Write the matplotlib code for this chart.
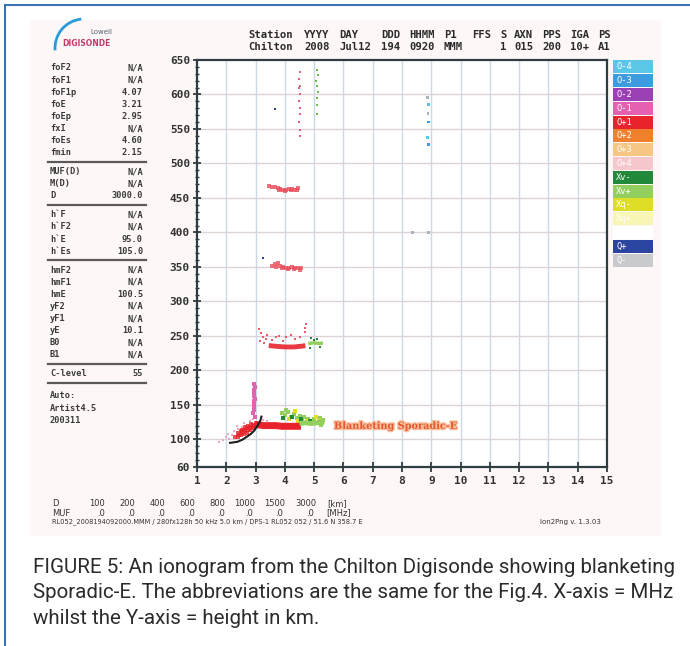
import matplotlib
matplotlib.use('Agg')
import matplotlib.pyplot as plt
import matplotlib.patheffects as pe
from matplotlib.patches import Rectangle, Arc

W, H = 690, 646

# header
head_keys = "Station YYYY DAY   DDD HHMM P1  FFS S AXN PPS IGA PS"
head_vals = ['Chilton', '2008', 'Jul12', '194', '0920', 'MMM', '', '1', '015', '200', '10+', 'A1']

# scaled parameters, left column
param_groups = [
    [('foF2', 'N/A'), ('foF1', 'N/A'), ('foF1p', '4.07'), ('foE', '3.21'),
     ('foEp', '2.95'), ('fxI', 'N/A'), ('foEs', '4.60'), ('fmin', '2.15')],
    [('MUF(D)', 'N/A'), ('M(D)', 'N/A'), ('D', '3000.0')],
    [('h`F', 'N/A'), ('h`F2', 'N/A'), ('h`E', '95.0'), ('h`Es', '105.0')],
    [('hmF2', 'N/A'), ('hmF1', 'N/A'), ('hmE', '100.5'), ('yF2', 'N/A'),
     ('yF1', 'N/A'), ('yE', '10.1'), ('B0', 'N/A'), ('B1', 'N/A')],
    [('C-level', '55')],
]
auto_lines = ['Auto:', 'Artist4.5', '200311']

# bottom MUF table
dist_km = ['100', '200', '400', '600', '800', '1000', '1500', '3000']
muf_mhz = ['.0', '.0', '.0', '.0', '.0', '.0', '.0', '.0']
file_line = "RL052_2008194092000.MMM / 280fx128h 50 kHz 5.0 km / DPS-1 RL052 052 / 51.6 N 358.7 E"

# legend
leg_labels = ['O-4', 'O-3', 'O-2', 'O-1', 'O+1', 'O+2', 'O+3', 'O+4',
              'Xv-', 'Xv+', 'Xq-', 'Xq+', '', 'Q+', 'Q-']
leg_colors = ['#5cc6e8', '#3d9be0', '#9a3fb4', '#e460b0', '#e8232b', '#f0802e',
              '#f8c684', '#f6c8cc', '#22883a', '#92cf5e', '#dede26', '#f8f6b4',
              '#ffffff', '#2b44a0', '#c8cacc']

# ---- ionogram echoes (frequency MHz, virtual height km) ----
# autoscaled E trace
e_f = [2.13, 2.38, 2.55, 2.70, 2.84, 2.96, 3.06, 3.16, 3.20]
e_h = [95, 96.5, 99.6, 103.8, 108, 113, 119.6, 127, 133]

# blanketing Es, O-mode band
es_f = [2.98, 3.1, 3.3, 3.5, 3.7, 3.9, 4.1, 4.3, 4.55]
es_h = [122, 121, 120, 120, 120, 119, 119, 119, 119]
# Es extension, X-mode
esx_f = [4.5, 4.7, 4.9, 5.1, 5.35]
esx_h = [123, 124, 123, 124, 125]
esx_dot_f = [3.9, 4.0, 4.1, 4.2, 4.3, 4.4, 4.5, 4.6, 4.8, 5.0, 5.2, 5.3, 4.05, 4.65, 4.95, 5.25]
esx_dot_h = [138, 135, 140, 133, 137, 131, 134, 128, 130, 129, 131, 128, 142, 133, 126, 121]
esy_dot_f = [4.15, 4.45, 4.75, 5.05, 5.15, 4.35]
esy_dot_h = [130, 127, 126, 132, 127, 141]
esdg_dot_f = [4.25, 4.55, 4.85, 5.2, 3.95]
esdg_dot_h = [132, 129, 127, 125, 131]

# O-mode cloud under the Es band
cloud_f = [2.3, 2.4, 2.45, 2.5, 2.55, 2.6, 2.6, 2.65, 2.7, 2.7, 2.75, 2.8, 2.8,
           2.85, 2.9, 2.9, 2.95, 3.0, 2.5, 2.65, 2.75, 2.85, 2.4, 2.55]
cloud_h = [103, 104, 107, 106, 110, 108, 113, 112, 110, 116, 114, 113, 118,
           116, 117, 121, 119, 124, 112, 118, 120, 122, 109, 114]
faint_f = [1.75, 1.9, 2.0, 2.1, 2.2, 2.25, 2.4, 2.55, 2.6, 2.8, 2.9, 2.05, 2.35, 3.25, 3.4]
faint_h = [96, 99, 103, 101, 106, 112, 115, 118, 124, 126, 130, 108, 119, 128, 126]

# O-1 spike near 3 MHz
spike_f = [2.92, 2.94, 2.95, 2.96, 2.97, 2.95, 2.93, 2.96, 2.98, 2.94, 2.97, 2.95]
spike_h = [138, 143, 148, 153, 158, 163, 168, 172, 176, 180, 133, 156]

# second hop
hop2_f = [3.45, 3.7, 4.0, 4.3, 4.55, 4.7]
hop2_h = [236, 235, 234, 234, 235, 236]
hop2_dot_f = [3.1, 3.2, 3.25, 3.35, 3.4, 3.55, 3.7, 3.8, 3.95, 4.05, 4.2, 4.35,
              4.5, 3.15, 3.3, 4.7, 4.7, 4.72]
hop2_dot_h = [260, 254, 248, 246, 252, 244, 248, 250, 243, 249, 251, 245,
              248, 242, 240, 256, 262, 268]
hop2x_f = [4.8, 5.0, 5.2, 5.3]
hop2x_h = [239, 240, 239, 240]
hop2x_dot_f = [4.9, 5.1, 5.2, 4.85, 5.0]
hop2x_dot_h = [247, 245, 234, 233, 244]

# third and fourth hop
hop3_f = [3.55, 3.65, 3.75, 3.85, 3.95, 4.05, 4.15, 4.25, 4.35, 4.45, 4.55, 3.7, 3.9, 4.1, 4.3, 4.5]
hop3_h = [352, 354, 356, 351, 350, 349, 349, 350, 348, 349, 348, 350, 348, 347, 347, 346]
hop4_f = [3.45, 3.55, 3.65, 3.75, 3.85, 3.95, 4.05, 4.15, 4.25, 4.35, 4.45, 3.8, 4.0, 4.2, 4.4]
hop4_h = [467, 466, 466, 465, 463, 462, 462, 463, 463, 462, 464, 461, 460, 461, 461]

# high vertical echoes
hi_f = [4.5, 4.48, 4.52, 4.5, 4.47, 4.53, 4.5, 4.49, 4.51, 4.5, 4.48]
hi_h = [632, 622, 612, 600, 590, 580, 572, 560, 548, 540, 610]
hig_f = [5.1, 5.12, 5.08, 5.1, 5.13, 5.1, 5.11, 5.09]
hig_h = [635, 628, 620, 612, 603, 595, 585, 572]
far_f = [8.88, 8.9, 8.89, 8.9, 8.88, 8.91, 8.35, 8.9]
far_h = [596, 585, 573, 560, 538, 528, 400, 400]
far_c = ['#aab4bc', '#5cc6e8', '#aab4bc', '#3d9be0', '#5cc6e8', '#3d9be0', '#aab4bc', '#aab4bc']
navy_f = [3.66, 3.25]
navy_h = [579, 363]


def fx(px):
    return px / W


def fy(py):
    return 1 - py / H


fig = plt.figure(figsize=(6.9, 6.46), dpi=100)
fig.patch.set_facecolor('white')

# ionogram image background and page frame
fig.patches.append(Rectangle((fx(30), fy(535)), fx(660) - fx(30), fy(20) - fy(535),
                             transform=fig.transFigure, color='#fdf8f7', zorder=-10))
fig.add_artist(plt.Line2D([fx(5), 1], [fy(5), fy(5)], color='#3d72b4', lw=1.5))
fig.add_artist(plt.Line2D([fx(5), fx(5)], [fy(5), 0], color='#3d72b4', lw=1.5))

# logo
fig.add_artist(Arc((fx(84), fy(48)), fx(58), 58 / H, theta1=95, theta2=185,
                   transform=fig.transFigure, color='#2a9ad8', lw=2.0))
fig.text(fx(112), fy(32), 'Lowell', fontsize=5, color='#556070', ha='right', va='center')
fig.text(fx(62), fy(44), 'DIGISONDE', fontsize=5.5, color='#c43a6c', ha='left', va='center',
         fontweight='bold')

mono = 'DejaVu Sans Mono'
# header columns, spaced like the station printout
keys = head_keys.split()
pos = 0
for key, val in zip(keys, head_vals):
    col = head_keys.index(key, pos)
    pos = col + len(key)
    xpix = 248 + col * 7.0
    fig.text(fx(xpix), fy(35.5), key, family=mono, fontweight='bold', fontsize=7.6,
             color='#2a2a2a', va='center')
    if val:
        fig.text(fx(xpix), fy(46.5), val, family=mono, fontweight='bold', fontsize=7.6,
                 color='#2a2a2a', va='center')

# parameter table
y = 68
for group in param_groups:
    for name, val in group:
        fig.text(fx(50), fy(y), name, family=mono, fontweight='bold', fontsize=6.2,
                 color='#3a3a3a', va='center')
        fig.text(fx(143), fy(y), val, family=mono, fontweight='bold', fontsize=6.2,
                 color='#3a3a3a', va='center', ha='right')
        y += 12.1
    y -= 12.1
    sep = y + 9
    fig.add_artist(plt.Line2D([fx(48), fx(146)], [fy(sep), fy(sep)], color='#5a5a5a', lw=1.6))
    y = sep + 10
y += 3
for line in auto_lines:
    fig.text(fx(50), fy(y), line, family=mono, fontweight='bold', fontsize=6.2,
             color='#3a3a3a', va='center')
    y += 12.1

# ionogram axes
ax = fig.add_axes([fx(197), fy(467), fx(607) - fx(197), fy(60) - fy(467)])
ax.set_facecolor('white')
ax.set_xlim(1, 15)
ax.set_ylim(60, 650)
ax.set_xticks(range(1, 16))
ax.set_yticks([60] + list(range(100, 651, 50)))
ax.set_yticks(range(60, 651, 10), minor=True)
for xv in range(2, 15):
    ax.axvline(xv, color='#cbdae6', lw=1.0, zorder=0)
for yv in range(100, 650, 50):
    ax.axhline(yv, color='#dcd2da', lw=1.0, zorder=0)
for s in ax.spines.values():
    s.set_color('#2f3c42')
    s.set_linewidth(1.6)
ax.tick_params(axis='y', which='major', direction='inout', length=6, width=1.3,
               color='#2f3c42', pad=2)
ax.tick_params(axis='y', which='minor', direction='inout', length=3.5, width=1.0,
               color='#2f3c42')
ax.tick_params(axis='x', direction='inout', length=7, width=1.3, color='#2f3c42', pad=3)
for lab in ax.get_xticklabels() + ax.get_yticklabels():
    lab.set_family(mono)
    lab.set_fontweight('bold')
    lab.set_fontsize(8)
    lab.set_color('#333333')

sq = dict(marker='s', linewidths=0)
ax.scatter(faint_f, faint_h, s=4, color='#f2a6bc', **sq)
ax.scatter(cloud_f, cloud_h, s=7, color='#e8232b', alpha=0.8, **sq)
ax.scatter(spike_f, spike_h, s=6, color='#e462ad', **sq)
ax.plot(es_f, es_h, color='#e8232b', lw=5, solid_capstyle='butt', zorder=3)
ax.plot(esx_f, esx_h, color='#92cf5e', lw=3.5, solid_capstyle='butt', zorder=3)
ax.scatter(esx_dot_f, esx_dot_h, s=5, color='#92cf5e', **sq)
ax.scatter(esy_dot_f, esy_dot_h, s=5, color='#dede26', **sq)
ax.scatter(esdg_dot_f, esdg_dot_h, s=5, color='#22883a', **sq)
ax.plot(e_f, e_h, color='#1e1e1e', lw=1.5, zorder=4)

ax.plot(hop2_f, hop2_h, color='#e8232b', lw=3.5, solid_capstyle='butt', alpha=0.9)
ax.scatter(hop2_dot_f, hop2_dot_h, s=4, color='#ec5a6a', **sq)
ax.plot(hop2x_f, hop2x_h, color='#92cf5e', lw=2.5, solid_capstyle='butt')
ax.scatter(hop2x_dot_f, hop2x_dot_h, s=4, color='#22883a', **sq)
ax.scatter(hop3_f, hop3_h, s=5, color='#e8505c', alpha=0.8, **sq)
ax.scatter(hop4_f, hop4_h, s=5, color='#e8505c', alpha=0.8, **sq)
ax.scatter(hi_f, hi_h, s=4, color='#e2607a', **sq)
ax.scatter(hig_f, hig_h, s=4, color='#6cbf4a', **sq)
ax.scatter(far_f, far_h, s=4, color=far_c, **sq)
ax.scatter(navy_f, navy_h, s=4, color='#2b44a0', **sq)

ax.text(5.68, 119, 'Blanketing Sporadic-E', family='DejaVu Serif', fontweight='bold',
        fontsize=7, color='#e2582a', va='center',
        path_effects=[pe.withStroke(linewidth=2, foreground='#f8c0a0')])

# colour legend
lax = fig.add_axes([fx(613), fy(267), fx(653) - fx(613), fy(60) - fy(267)])
rows = list(range(len(leg_labels)))
lax.barh(rows, [1] * len(rows), height=0.93, color=leg_colors, left=0)
lax.set_xlim(0, 1)
lax.set_ylim(len(rows) - 0.5, -0.5)
lax.axis('off')
for r, lab in zip(rows, leg_labels):
    lax.text(0.08, r, lab, color='white', fontsize=6.3, family=mono, va='center')

# bottom MUF table and file line
fig.text(fx(52), fy(504), 'D', fontsize=6, color='#333333', va='center')
fig.text(fx(52), fy(513), 'MUF', fontsize=6, color='#333333', va='center')
cols = [97, 127, 157, 187, 217, 245, 275, 306]
for cx, d, m in zip(cols, dist_km, muf_mhz):
    fig.text(fx(cx), fy(504), d, fontsize=6, color='#333333', va='center', ha='center')
    fig.text(fx(cx + 4), fy(513), m, fontsize=6, color='#333333', va='center', ha='center')
fig.text(fx(337), fy(504), '[km]', fontsize=6, color='#333333', va='center', ha='center')
fig.text(fx(339), fy(513), '[MHz]', fontsize=6, color='#333333', va='center', ha='center')
fig.text(fx(52), fy(522), file_line, fontsize=4.8, color='#333333', va='center')
fig.text(fx(540), fy(522), 'Ion2Png v. 1.3.03', fontsize=5, color='#333333', va='center')

# caption
caption = ["FIGURE 5: An ionogram from the Chilton Digisonde showing blanketing",
           "Sporadic-E. The abbreviations are the same for the Fig.4. X-axis = MHz",
           "whilst the Y-axis = height in km."]
for i, line in enumerate(caption):
    fig.text(fx(33), fy(567 + 25.5 * i), line, family='Roboto', fontsize=14.8,
             color='#2b2b2b', va='center')

fig.savefig('out.png', dpi=100)
